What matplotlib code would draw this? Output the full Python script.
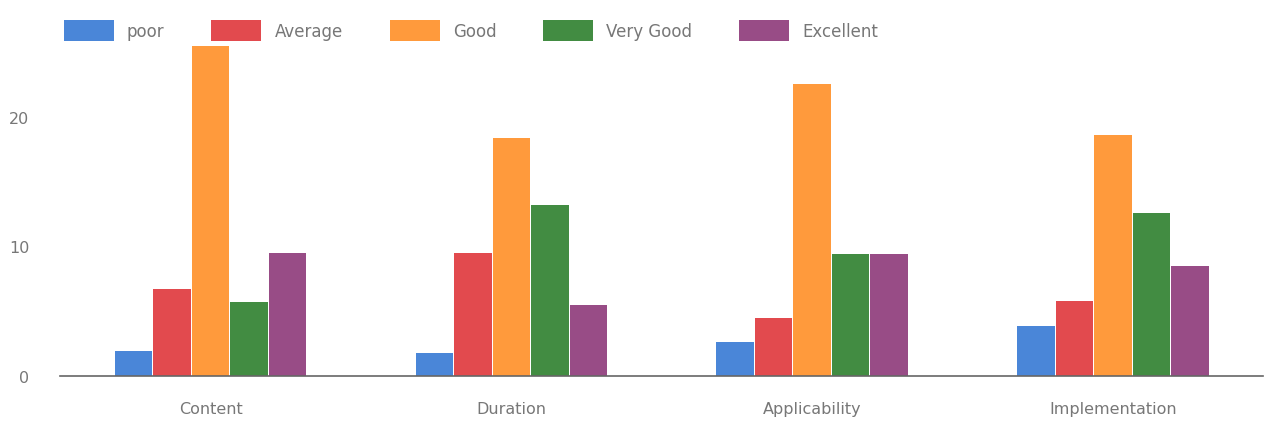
import matplotlib.pyplot as plt
import numpy as np

categories = ["Content", "Duration", "Applicability", "Implementation"]
series = ["poor", "Average", "Good", "Very Good", "Excellent"]
poor = [1.9, 1.8, 2.6, 3.9]
average = [6.7, 9.5, 4.5, 5.8]
good = [25.5, 18.4, 22.5, 18.6]
very_good = [5.7, 13.2, 9.4, 12.6]
excellent = [9.5, 5.5, 9.4, 8.5]
colors = ["#4a86d8", "#e24a4e", "#ff9a3c", "#428c42", "#984c86"]

values = [poor, average, good, very_good, excellent]

fig = plt.figure(figsize=(12.8, 4.31), dpi=100)
ax = fig.add_axes([0.047, 0.125, 0.94, 0.782])

x = np.arange(len(categories))
w = 0.128
for i, (name, vals) in enumerate(zip(series, values)):
    ax.bar(x + (i - 2) * w, vals, width=w * 0.97, color=colors[i], label=name)

ax.set_xlim(-0.5, 3.5)
ax.set_ylim(0, 26)
ax.set_yticks([0, 10, 20])
ax.set_xticks(x)
ax.set_xticklabels(categories)
for s in ["top", "right", "left"]:
    ax.spines[s].set_visible(False)
ax.spines["bottom"].set_color("#666666")
ax.spines["bottom"].set_linewidth(1.2)
ax.tick_params(axis="both", length=0, colors="#777777", labelsize=11.5)
ax.tick_params(axis="y", pad=22)
ax.tick_params(axis="x", pad=18)

fig.legend(loc="upper left", bbox_to_anchor=(0.038, 0.985), ncol=5, frameon=False,
           handlelength=3.0, handleheight=1.5, columnspacing=2.8,
           labelcolor="#777777", fontsize=12)

plt.savefig("out.png", dpi=100)
